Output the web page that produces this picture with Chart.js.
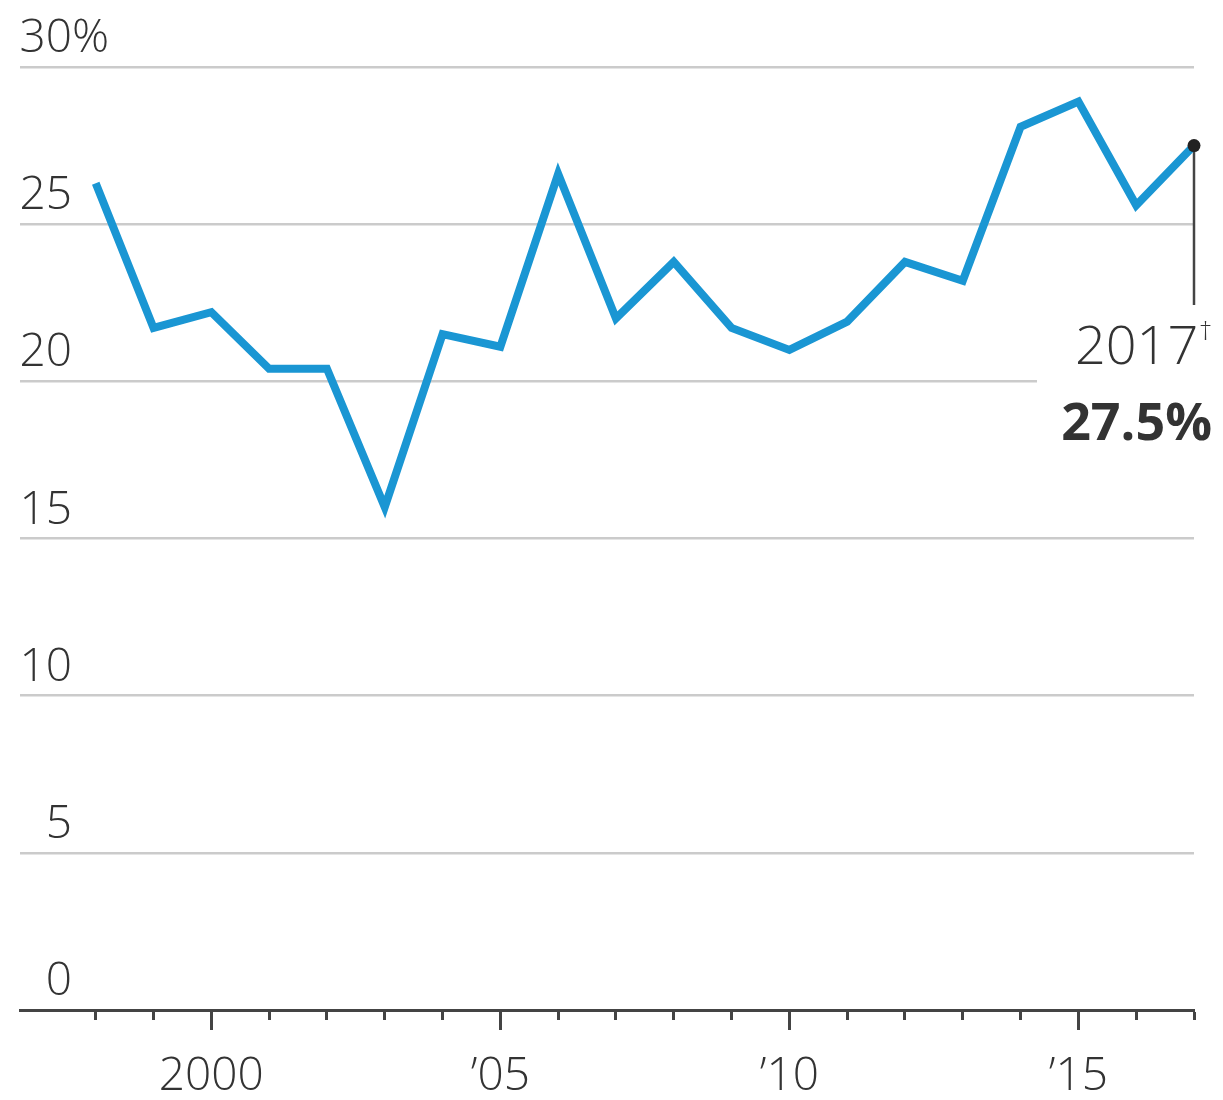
<!DOCTYPE html>
<html>
<head>
<meta charset="utf-8">
<script src="https://cdn.jsdelivr.net/npm/chart.js@4/dist/chart.umd.min.js"></script>
<style>
  body { margin: 0; background: #fff; }
  #wrap { width: 1223px; height: 1100px; }
</style>
</head>
<body>
<div id="wrap"><canvas id="chart" width="1223" height="1100"></canvas></div>
<script>
const years = [1998, 1999, 2000, 2001, 2002, 2003, 2004, 2005, 2006, 2007,
               2008, 2009, 2010, 2011, 2012, 2013, 2014, 2015, 2016, 2017];
const shares = [26.3, 21.7, 22.2, 20.4, 20.4, 16.0, 21.5, 21.1, 26.6, 22.0,
                23.8, 21.7, 21.0, 21.9, 23.8, 23.2, 28.1, 28.9, 25.6, 27.5];
const majorYears = [2000, 2005, 2010, 2015];
const majorLabels = ['2000', '\u201905', '\u201910', '\u201915'];
const yTicks = [0, 5, 10, 15, 20, 25, 30];
const lastLabel = '2017';
const lastValue = '27.5%';

const INK = '#333';
const AXIS = '#444';
const GRID = '#cbcbcb';
const FONT = "'Open Sans', sans-serif";

const last = shares.length - 1;

// gridline at 20 stops short so the 2017 note has room
const extras = {
  id: 'extras',
  beforeDatasetsDraw(chart) {
    const { ctx, chartArea, scales: { x, y } } = chart;
    ctx.save();
    ctx.strokeStyle = GRID;
    ctx.lineWidth = 2.5;
    const gy = y.getPixelForValue(20);
    ctx.beginPath();
    ctx.moveTo(chartArea.left, gy);
    ctx.lineTo(1037, gy);
    ctx.stroke();

    // leader line from last point down to the label
    const px = x.getPixelForValue(years[last]);
    const py = y.getPixelForValue(shares[last]);
    ctx.strokeStyle = AXIS;
    ctx.lineWidth = 2.5;
    ctx.beginPath();
    ctx.moveTo(px, py);
    ctx.lineTo(px, 305);
    ctx.stroke();
    ctx.restore();
  },
  afterDraw(chart) {
    const { ctx, chartArea, scales: { x, y } } = chart;
    ctx.save();
    ctx.fillStyle = INK;

    // y labels sit above their gridlines, numbers right-aligned
    ctx.font = '300 46px ' + FONT;
    ctx.textBaseline = 'alphabetic';
    const lx = chartArea.left + 52;
    y.ticks.forEach(t => {
      const py = y.getPixelForValue(t.value) - 15;
      ctx.textAlign = 'right';
      ctx.fillText(String(t.value), lx, py);
      if (t.value === 30) {
        ctx.textAlign = 'left';
        ctx.fillText('%', lx, py);
      }
    });

    // longer tick marks for the labelled years
    ctx.strokeStyle = AXIS;
    ctx.lineWidth = 3;
    majorYears.forEach(v => {
      const px = Math.round(x.getPixelForValue(v)) + 0.5;
      ctx.beginPath();
      ctx.moveTo(px, chartArea.bottom);
      ctx.lineTo(px, chartArea.bottom + 20);
      ctx.stroke();
    });

    // 2017 note
    const right = 1212;
    ctx.textAlign = 'right';
    ctx.font = '300 26px ' + FONT;
    const dagW = ctx.measureText('\u2020').width;
    ctx.fillText('\u2020', right, 340);
    ctx.font = '300 54px ' + FONT;
    ctx.fillText(lastLabel, right - dagW - 1, 364);
    ctx.font = 'bold 52px ' + FONT;
    ctx.fillText(lastValue, right, 440);
    ctx.restore();
  }
};

new Chart(document.getElementById('chart'), {
  type: 'line',
  data: {
    datasets: [{
      data: years.map((yr, i) => ({ x: yr, y: shares[i] })),
      borderColor: '#1a96d3',
      borderWidth: 8,
      borderJoinStyle: 'miter',
      tension: 0,
      clip: false,
      pointRadius: c => c.dataIndex === last ? 6.5 : 0,
      pointHoverRadius: 0,
      pointBackgroundColor: '#222',
      pointBorderWidth: 0
    }]
  },
  options: {
    responsive: false,
    animation: false,
    events: [],
    layout: { padding: { left: 20, right: 28, top: 67, bottom: 0 } },
    plugins: { legend: { display: false }, tooltip: { enabled: false } },
    scales: {
      x: {
        type: 'linear',
        min: 1996.69,
        max: 2017,
        afterBuildTicks: s => { s.ticks = years.map(v => ({ value: v })); },
        afterFit: s => { s.height = 90; },
        grid: {
          display: true,
          drawOnChartArea: false,
          drawTicks: true,
          tickLength: 10,
          tickColor: AXIS,
          tickWidth: 3
        },
        border: { display: true, color: AXIS, width: 3 },
        ticks: {
          autoSkip: false,
          maxRotation: 0,
          padding: 29,
          color: INK,
          font: { family: FONT, size: 46, weight: '300', lineHeight: 1.2 },
          callback: v => {
            const k = majorYears.indexOf(v);
            return k >= 0 ? majorLabels[k] : '';
          }
        }
      },
      y: {
        min: 0,
        max: 30,
        afterBuildTicks: s => { s.ticks = yTicks.map(v => ({ value: v })); },
        afterFit: s => { s.width = 0; },
        grid: {
          drawTicks: false,
          lineWidth: 2.5,
          color: c => (c.tick && (c.tick.value === 0 || c.tick.value === 20)) ? 'rgba(0,0,0,0)' : GRID
        },
        border: { display: false },
        ticks: { display: false }
      }
    }
  },
  plugins: [extras]
});
</script>
</body>
</html>
